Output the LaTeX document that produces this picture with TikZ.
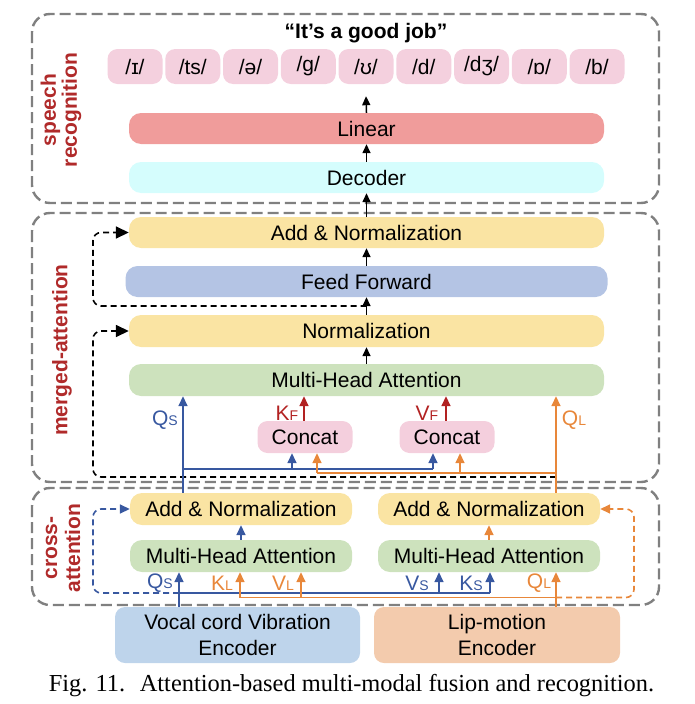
\documentclass[tikz,border=0pt]{standalone}
\usepackage{fontspec}
\setmainfont{Liberation Sans}
\newfontfamily\capfont{Liberation Serif}
\usetikzlibrary{arrows.meta,calc}
\definecolor{grayb}{RGB}{128,128,128}
\definecolor{pinkph}{RGB}{244,208,222}
\definecolor{linred}{RGB}{240,156,155}
\definecolor{deccyan}{RGB}{213,253,253}
\definecolor{yel}{RGB}{250,228,163}
\definecolor{ffblue}{RGB}{180,196,228}
\definecolor{grn}{RGB}{205,226,189}
\definecolor{ccpink}{RGB}{244,207,221}
\definecolor{encblue}{RGB}{190,212,235}
\definecolor{encor}{RGB}{243,203,173}
\definecolor{lblue}{RGB}{56,88,160}
\definecolor{lor}{RGB}{232,135,58}
\definecolor{lred}{RGB}{178,34,34}
\definecolor{tred}{RGB}{176,42,42}
\newcommand\qk[2]{#1{\fontsize{14}{14}\selectfont #2}}
\begin{document}
\begin{tikzpicture}[x=1pt,y=-1pt,
  every node/.style={font=\fontsize{21}{24}\selectfont, inner sep=0pt},
  grp/.style={draw=grayb, line width=2.4pt, dash pattern=on 11pt off 5pt, rounded corners=18pt},
  blk/.style={rounded corners=12pt, minimum height=31pt, align=center},
  phb/.style={blk, fill=pinkph, minimum width=55pt, minimum height=35pt, rounded corners=10pt},
  side/.style={text=tred, font=\bfseries\fontsize{21}{21}\selectfont, rotate=90, align=center},
  ar/.style={-{Triangle[length=9pt,width=8pt]}, line width=1.5pt},
  dar/.style={-{Triangle[length=13pt,width=12pt]}, line width=1.6pt, dash pattern=on 6pt off 4pt, rounded corners=8pt},
  car/.style={-{Triangle[length=10pt,width=9pt]}, line width=1.6pt},
  cl/.style={line width=1.6pt},
  cdar/.style={-{Triangle[length=10pt,width=9pt]}, line width=1.6pt, dash pattern=on 6pt off 4pt, rounded corners=8pt},
  lab/.style={}
]
\useasboundingbox (0,0) rectangle (694,704);

% group boxes
\draw[grp] (32,14) rectangle (659,203);
\draw[grp] (32,213) rectangle (659,482);
\draw[grp] (32,488) rectangle (659,605);

% side labels
\node[side] (srl) at (61,110) {speech\\recognition};
\node[side] (mal) at (62,350) {merged-attention};
\node[side, font=\bfseries\fontsize{21}{23}\selectfont] (cal) at (63,548) {cross-\\attention};

% speech recognition
\node[font=\bfseries\fontsize{21}{24}\selectfont] (title) at (366,33) {“It\char"0027 s a good job”};
\foreach \t [count=\i] in {/ɪ/,/ts/,/ə/,/g/,/ʊ/,/d/,/dʒ/,/ɒ/,/b/}{
  \node[phb] (ph\i) at ({366+(\i-5)*57.75},66.5) {\t};
}
\node[blk, fill=linred, minimum width=475pt] (lin) at (366.5,128.5) {Linear};
\node[blk, fill=deccyan, minimum width=475pt] (dec) at (366.5,177.5) {Decoder};

% merged attention
\node[blk, fill=yel, minimum width=475pt] (an) at (366.5,232.5) {Add \& Normalization};
\node[blk, fill=ffblue, minimum width=482pt] (ff) at (366.5,281.5) {Feed Forward};
\node[blk, fill=yel, minimum width=475pt, minimum height=32pt] (nrm) at (366.5,331) {Normalization};
\node[blk, fill=grn, minimum width=475pt, minimum height=32pt] (mha) at (366.5,380) {Multi-Head Attention};
\node[blk, fill=ccpink, minimum width=95pt, minimum height=32pt, rounded corners=10pt] (cc1) at (305,437) {Concat};
\node[blk, fill=ccpink, minimum width=95pt, minimum height=32pt, rounded corners=10pt] (cc2) at (447,437) {Concat};

% cross attention
\node[blk, fill=yel, minimum width=222pt, minimum height=32pt] (anL) at (241,509) {Add \& Normalization};
\node[blk, fill=yel, minimum width=222pt, minimum height=32pt] (anR) at (489,509) {Add \& Normalization};
\node[blk, fill=grn, minimum width=222pt, minimum height=32pt] (mhaL) at (241,556) {Multi-Head Attention};
\node[blk, fill=grn, minimum width=222pt, minimum height=32pt] (mhaR) at (489,556) {Multi-Head Attention};
\node[blk, fill=encblue, minimum width=245pt, minimum height=56pt, rounded corners=10pt, font=\fontsize{21}{26}\selectfont] (encV) at (237.5,635) {Vocal cord Vibration\\Encoder};
\node[blk, fill=encor, minimum width=246pt, minimum height=56pt, rounded corners=10pt, font=\fontsize{21}{26}\selectfont] (encL) at (497,635) {Lip-motion\\Encoder};

% caption
\node[font=\capfont\fontsize{24.4}{28}\selectfont] (cap) at (351.5,686) {Fig. 11.\hspace{0.6em}Attention-based multi-modal fusion and recognition.};

% black arrows
\draw[ar] (lin.north) -- ([yshift=-12pt]ph5.south);
\draw[ar] (dec.north) -- (lin.south);
\draw[ar] (an.north) -- (dec.south);
\draw[ar] (ff.north) -- (an.south);
\draw[ar] (nrm.north) -- (ff.south);
\draw[ar] (mha.north) -- (nrm.south);

% coordinates for colored lines
\coordinate (xqsm) at (183,0);
\coordinate (xqsc) at (179,0);
\coordinate (xqlm) at (556,0);
\coordinate (xb1) at (292,0);
\coordinate (xb2) at (433,0);
\coordinate (xo1) at (317,0);
\coordinate (xo2) at (460,0);
\coordinate (xkl) at (240,0);
\coordinate (xvl) at (301,0);
\coordinate (xvs) at (439,0);
\coordinate (xks) at (490,0);
\coordinate (yb) at (0,469);
\coordinate (yo) at (0,473);
\coordinate (ycb) at (0,593);
\coordinate (yco) at (0,597.5);

% black dashed residuals
\coordinate (r1) at ($(nrm.north)!0.5!(ff.south)$);
\draw[dar] (r1) -- (93,306) -- (93,232.5) -- (an.west);
\coordinate (r2) at (556,477);
\draw[dar] (r2) -- (93,477) -- (93,331) -- (nrm.west);

% merged colored lines
\draw[car, lblue] (anL.north -| xqsm) -- (mha.south -| xqsm);
\draw[cl, lblue] (yb -| xqsm) -- (yb -| xb2);
\draw[car, lblue] (yb -| xb1) -- (cc1.south -| xb1);
\draw[car, lblue] (yb -| xb2) -- (cc2.south -| xb2);
\draw[car, lor] (anR.north -| xqlm) -- (mha.south -| xqlm);
\draw[cl, lor] (yo -| xqlm) -- (yo -| xo1);
\draw[car, lor] (yo -| xo1) -- (cc1.south -| xo1);
\draw[car, lor] (yo -| xo2) -- (cc2.south -| xo2);
\draw[car, lred] ([xshift=-1pt]cc1.north) -- ([xshift=-1pt]cc1.north |- mha.south);
\draw[car, lred] ([xshift=-1pt]cc2.north) -- ([xshift=-1pt]cc2.north |- mha.south);

\node[lab, text=lblue] (lqs1) at (165,420) {\qk{Q}{S}};
\node[lab, text=lred] (lkf) at (287,413) {\qk{K}{F}};
\node[lab, text=lred] (lvf) at (427,413) {\qk{V}{F}};
\node[lab, text=lor] (lql1) at (574,420) {\qk{Q}{L}};

% cross colored lines
\draw[car, lblue] (encV.north -| xqsc) -- (mhaL.south -| xqsc);
\draw[cl, lblue] (ycb -| xqsc) -- (ycb -| xks);
\draw[car, lblue] (ycb -| xvs) -- (mhaR.south -| xvs);
\draw[car, lblue] (ycb -| xks) -- (mhaR.south -| xks);
\draw[cdar, lblue] (ycb -| xqsc) -- (93,593) -- (93,509) -- (anL.west);
\draw[car, lblue] (mhaL.north) -- (anL.south);

\draw[car, lor] (encL.north -| xqlm) -- (mhaR.south -| xqlm);
\draw[cl, lor] (yco -| xqlm) -- (yco -| xkl);
\draw[car, lor] (yco -| xkl) -- (mhaL.south -| xkl);
\draw[car, lor] (yco -| xvl) -- (mhaL.south -| xvl);
\draw[cdar, lor] (yco -| xqlm) -- (634,597.5) -- (634,509) -- (anR.east);
\draw[car, lor] (mhaR.north) -- (anR.south);

\node[lab, text=lblue] (lqs2) at (160,583) {\qk{Q}{S}};
\node[lab, text=lor] (lkl) at (222,583) {\qk{K}{L}};
\node[lab, text=lor] (lvl) at (283,583) {\qk{V}{L}};
\node[lab, text=lblue] (lvs) at (417,583) {\qk{V}{S}};
\node[lab, text=lblue] (lks) at (471,583) {\qk{K}{S}};
\node[lab, text=lor] (lql2) at (539,583) {\qk{Q}{L}};
\end{tikzpicture}
\end{document}
